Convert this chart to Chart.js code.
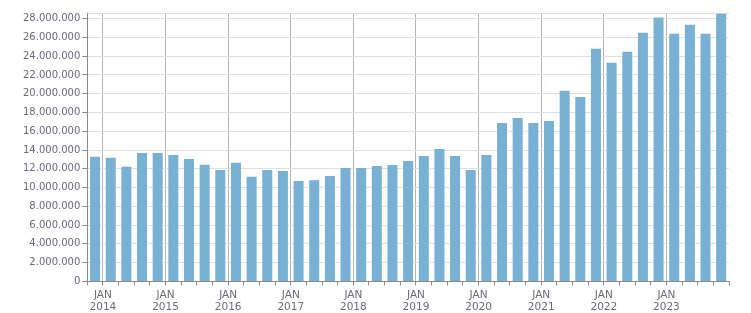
<!DOCTYPE html>
<html>
<head>
<meta charset="utf-8">
<script src="https://cdn.jsdelivr.net/npm/chart.js@4.4.0/dist/chart.umd.min.js"></script>
<style>
  html, body { margin: 0; padding: 0; background: #fff; }
  #wrap { width: 751px; height: 313px; }
</style>
</head>
<body>
<div id="wrap"><canvas id="bar-chart"></canvas></div>
<script>
// quarters, first bar is the last quarter of 2013
var quarters = ["2013 Q4",
  "2014 Q1", "2014 Q2", "2014 Q3", "2014 Q4",
  "2015 Q1", "2015 Q2", "2015 Q3", "2015 Q4",
  "2016 Q1", "2016 Q2", "2016 Q3", "2016 Q4",
  "2017 Q1", "2017 Q2", "2017 Q3", "2017 Q4",
  "2018 Q1", "2018 Q2", "2018 Q3", "2018 Q4",
  "2019 Q1", "2019 Q2", "2019 Q3", "2019 Q4",
  "2020 Q1", "2020 Q2", "2020 Q3", "2020 Q4",
  "2021 Q1", "2021 Q2", "2021 Q3", "2021 Q4",
  "2022 Q1", "2022 Q2", "2022 Q3", "2022 Q4",
  "2023 Q1", "2023 Q2", "2023 Q3", "2023 Q4"];

var values = [13280000,
  13180000, 12220000, 13680000, 13680000,
  13470000, 13040000, 12430000, 11860000,
  12640000, 11150000, 11860000, 11760000,
  10690000, 10790000, 11220000, 12080000,
  12080000, 12290000, 12400000, 12820000,
  13360000, 14110000, 13360000, 11860000,
  13470000, 16890000, 17420000, 16890000,
  17100000, 20310000, 19660000, 24790000,
  23300000, 24470000, 26500000, 28110000,
  26400000, 27360000, 26400000, 28530000];

var yTicks = [0, 2000000, 4000000, 6000000, 8000000, 10000000, 12000000,
  14000000, 16000000, 18000000, 20000000, 22000000, 24000000, 26000000, 28000000];
var yMax = 28600000;

function fmt(v) {
  return String(v).replace(/\B(?=(\d{3})+(?!\d))/g, ".");
}

var txt = "#6b6b7a";

new Chart(document.getElementById("bar-chart"), {
  type: 'bar',
  data: {
    labels: quarters,
    datasets: [{
      data: values,
      backgroundColor: "#78b1d4",
      borderWidth: 0,
      barPercentage: 0.64,
      categoryPercentage: 1
    }]
  },
  options: {
    responsive: true,
    maintainAspectRatio: false,
    animation: false,
    layout: { padding: { left: 21, right: 22, top: 13, bottom: -4 } },
    plugins: { legend: { display: false }, tooltip: { enabled: false } },
    scales: {
      x: {
        offset: true,
        grid: {
          offset: true,
          lineWidth: 1,
          color: function(ctx) {
            if (ctx.index === quarters.length) return "#dddddd";
            var q = quarters[ctx.index];
            if (q && q.slice(-2) === "Q1") return "#b4b4b4";
            return "rgba(0,0,0,0)";
          },
          tickColor: "#8a8a8a",
          tickLength: 4
        },
        border: { color: "#8a8a8a", width: 1 },
        ticks: {
          autoSkip: false,
          maxRotation: 0,
          labelOffset: -7.8,
          padding: 3,
          color: txt,
          font: { family: "DejaVu Sans", size: 10.5, lineHeight: 1.22 },
          callback: function(v, i) {
            var q = quarters[i];
            if (q.slice(-2) === "Q1") return ["JAN", q.slice(0, 4)];
            return "";
          }
        }
      },
      y: {
        min: 0,
        max: yMax,
        afterBuildTicks: function(scale) {
          scale.ticks = yTicks.map(function(v) { return { value: v }; });
          scale.ticks.push({ value: yMax });
        },
        grid: {
          color: "#e0e0e0",
          tickColor: function(ctx) {
            return ctx.tick && ctx.tick.value === yMax ? "rgba(0,0,0,0)" : "#8a8a8a";
          },
          tickLength: 5
        },
        border: { color: "#8a8a8a", width: 1 },
        ticks: {
          autoSkip: false,
          padding: 2,
          color: txt,
          font: { family: "DejaVu Sans", size: 10 },
          callback: function(v) {
            if (yTicks.indexOf(v) < 0) return "";
            return fmt(v);
          }
        }
      }
    }
  }
});
</script>
</body>
</html>
